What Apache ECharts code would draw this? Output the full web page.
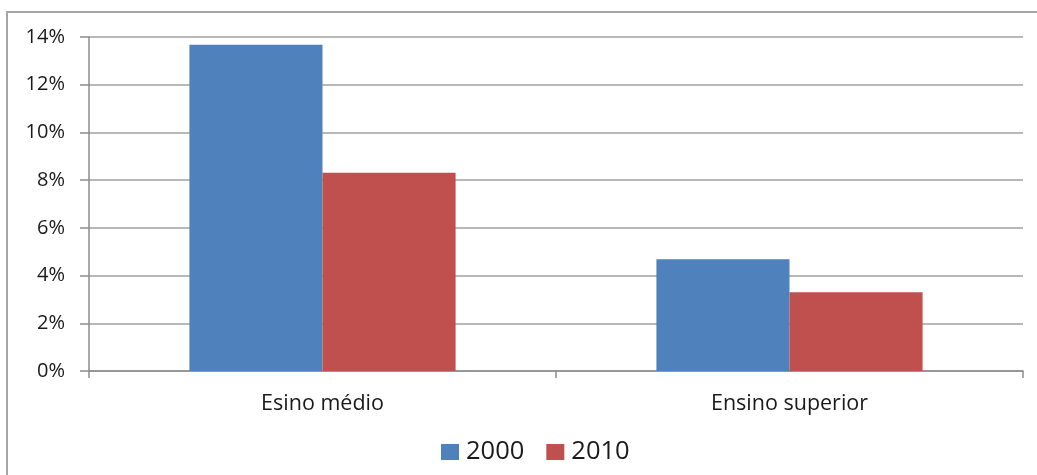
<!DOCTYPE html>
<html>
<head>
<meta charset="utf-8">
<script src="https://cdn.jsdelivr.net/npm/echarts@6/dist/echarts.min.js"></script>
<style>
  html, body { margin: 0; padding: 0; background: #ffffff; }
  #chart { width: 1037px; height: 475px; }
</style>
</head>
<body>
<div id="chart"></div>
<script>
// Categories and shares (as fractions) per census year
const categories = ['Esino médio', 'Ensino superior'];
const years = ['2000', '2010'];
const values2000 = [0.1367, 0.0468];
const values2010 = [0.0831, 0.0330];
const yTicks = { min: 0, max: 0.14, interval: 0.02 };

const FONT = '"Open Sans", "Noto Sans", sans-serif';
const chart = echarts.init(document.getElementById('chart'), null, { renderer: 'canvas' });

chart.setOption({
  animation: false,
  backgroundColor: '#ffffff',
  textStyle: { fontFamily: FONT },
  graphic: [{
    type: 'rect',
    shape: { x: 7, y: 12, width: 1100, height: 600 },
    style: { fill: 'none', stroke: '#a6a6a6', lineWidth: 2 },
    silent: true
  }],
  grid: { left: 89, right: 14, top: 37, bottom: 104, containLabel: false },
  legend: {
    data: years,
    left: 436,
    top: 434,
    itemWidth: 18,
    itemHeight: 16,
    itemGap: 22,
    icon: 'rect',
    textStyle: { fontSize: 25.5, color: '#1a1a1a', fontFamily: FONT, padding: [0, 0, 0, 2] }
  },
  xAxis: {
    type: 'category',
    data: categories,
    boundaryGap: true,
    axisLine: { lineStyle: { color: '#8c8c8c', width: 1.5 } },
    axisTick: { show: true, alignWithLabel: false, length: 7, lineStyle: { color: '#8c8c8c', width: 1.5 } },
    axisLabel: { fontSize: 21.5, color: '#1a1a1a', margin: 22, fontFamily: FONT }
  },
  yAxis: {
    type: 'value',
    min: yTicks.min,
    max: yTicks.max,
    interval: yTicks.interval,
    axisLine: { show: true, lineStyle: { color: '#8c8c8c', width: 1.5 } },
    axisTick: { show: true, length: 9, lineStyle: { color: '#8c8c8c', width: 1.5 } },
    splitLine: { show: true, lineStyle: { color: '#a0a0a0', width: 1.5 } },
    axisLabel: {
      fontSize: 20, color: '#1a1a1a', margin: 24, fontFamily: FONT,
      formatter: v => Math.round(v * 100) + '%'
    }
  },
  series: [
    {
      name: years[0], type: 'bar', data: values2000,
      barGap: '0%', barCategoryGap: '43%',
      itemStyle: { color: '#4f81bd' }
    },
    {
      name: years[1], type: 'bar', data: values2010,
      barGap: '0%', barCategoryGap: '43%',
      itemStyle: { color: '#c0504d' }
    }
  ]
});
</script>
</body>
</html>
